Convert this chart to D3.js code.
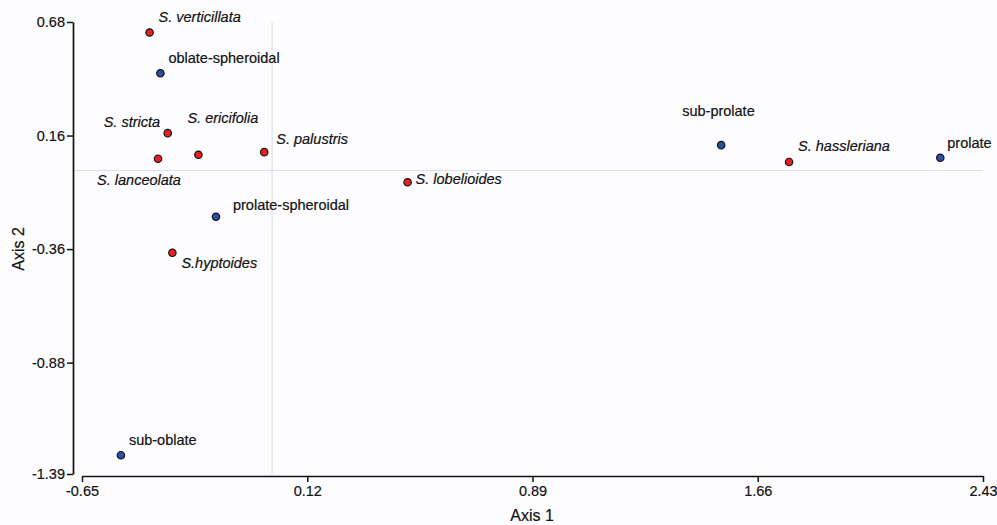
<!DOCTYPE html>
<html><head><meta charset="utf-8">
<script src="https://cdn.jsdelivr.net/npm/d3@7"></script>
<style>body{margin:0;background:#fdfdff}svg{display:block}</style>
</head><body>
<script>
const names = ["S. verticillata","oblate-spheroidal","S. stricta","S. lanceolata","S. ericifolia","S. palustris","prolate-spheroidal","S.hyptoides","sub-oblate","S. lobelioides","sub-prolate","S. hassleriana","prolate"];
const axis1 = [-0.419,-0.382,-0.357,-0.390,-0.252,-0.027,-0.192,-0.341,-0.517,0.463,1.535,1.767,2.284];
const axis2 = [0.632,0.445,0.171,0.054,0.072,0.084,-0.212,-0.377,-1.304,-0.054,0.116,0.039,0.058];
const groups = ["species","shape","species","species","species","species","shape","species","shape","species","shape","species","shape"];
const xTicks = [-0.65,0.12,0.89,1.66,2.43];
const yTicks = [0.68,0.16,-0.36,-0.88,-1.39];
// label offsets (dx, dy) from point, in px
const labelDx = [9,8,-64,-61,-11,12,17,9,8,8,-39,9,7];
const labelDy = [-10,-10,-6,26,-32,-8,-7,15,-10,2,-29,-11,-10];

const W=997,H=525;
const svg=d3.select("body").append("svg").attr("width",W).attr("height",H);
svg.append("rect").attr("width",W).attr("height",H).attr("fill","#fdfdff");
const x=d3.scaleLinear().domain([-0.65,2.43]).range([82,983]);
const y=d3.scaleLinear().domain([-1.39,0.68]).range([474,22]);
const font="Liberation Sans, Arial, sans-serif";
const ink="#111";

// zero lines
svg.append("line").attr("x1",x(0)).attr("x2",x(0)).attr("y1",y(0.68)).attr("y2",y(-1.39)).attr("stroke","#dde1e6").attr("stroke-width",1.2);
svg.append("line").attr("x1",73).attr("x2",x(2.43)).attr("y1",y(0)).attr("y2",y(0)).attr("stroke","#dde1e6").attr("stroke-width",1.2);

const fmt=d=>d.toFixed(2);
const gx=svg.append("g").attr("transform","translate(0,476)")
  .call(d3.axisBottom(x).tickValues(xTicks).tickFormat(fmt).tickSize(6).tickSizeOuter(0).tickPadding(4));
const gy=svg.append("g").attr("transform","translate(73,0)")
  .call(d3.axisLeft(y).tickValues(yTicks).tickFormat(fmt).tickSize(6).tickSizeOuter(0).tickPadding(2));
[gx,gy].forEach(g=>{
  g.select(".domain").attr("stroke",ink).attr("stroke-width",1.7);
  g.selectAll(".tick line").attr("stroke",ink).attr("stroke-width",1.5);
  g.selectAll(".tick text").attr("font-family",font).attr("font-size",14.5).attr("fill",ink)
    .attr("stroke",ink).attr("stroke-width",0.2);
});

svg.append("text").attr("x",532).attr("y",521).attr("text-anchor","middle")
  .attr("font-family",font).attr("font-size",16).attr("fill",ink).attr("stroke",ink).attr("stroke-width",0.2).text("Axis 1");
svg.append("text").attr("transform","translate(24,249) rotate(-90)").attr("text-anchor","middle")
  .attr("font-family",font).attr("font-size",16).attr("fill",ink).attr("stroke",ink).attr("stroke-width",0.2).text("Axis 2");

const data=names.map((n,i)=>({n,x:axis1[i],y:axis2[i],g:groups[i],dx:labelDx[i],dy:labelDy[i]}));
svg.selectAll("circle.pt").data(data).join("circle").attr("class","pt")
  .attr("cx",d=>x(d.x)).attr("cy",d=>y(d.y)).attr("r",3.7)
  .attr("fill",d=>d.g==="species"?"#e8201f":"#2b4fa1").attr("stroke","#111").attr("stroke-width",1.2);
svg.selectAll("text.lab").data(data).join("text").attr("class","lab")
  .attr("x",d=>x(d.x)+d.dx).attr("y",d=>y(d.y)+d.dy)
  .attr("font-family",font).attr("font-size",14.5).attr("fill",ink).attr("stroke",ink).attr("stroke-width",0.2)
  .attr("font-style",d=>d.g==="species"?"italic":"normal").text(d=>d.n);
</script>
</body></html>
